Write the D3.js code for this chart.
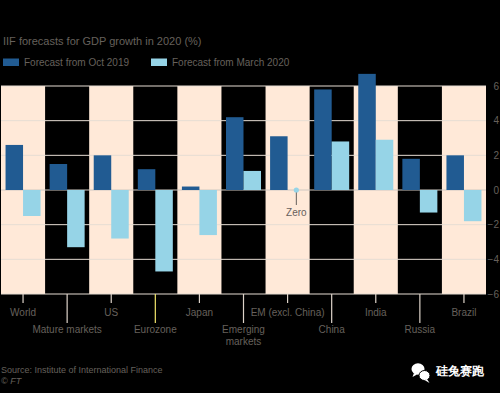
<!DOCTYPE html>
<html>
<head>
<meta charset="utf-8">
<script src="https://cdn.jsdelivr.net/npm/d3@7"></script>
<style>
  html, body { margin: 0; padding: 0; background: #000; }
  svg { display: block; }
  text { font-family: "Liberation Sans", Arial, sans-serif; }
</style>
</head>
<body>
<svg id="chart" width="500" height="393"></svg>
<script>
const categories = ["World", "Mature markets", "US", "Eurozone", "Japan", "Emerging markets", "EM (excl. China)", "China", "India", "Russia", "Brazil"];
const forecastOct2019 = [2.6, 1.5, 2.0, 1.2, 0.2, 4.2, 3.1, 5.8, 6.7, 1.8, 2.0];
const forecastMar2020 = [-1.5, -3.3, -2.8, -4.7, -2.6, 1.1, 0, 2.8, 2.9, -1.3, -1.8];
const yTicks = [-6, -4, -2, 0, 2, 4, 6];
const seriesNames = ["Forecast from Oct 2019", "Forecast from March 2020"];
const title = "IIF forecasts for GDP growth in 2020 (%)";
const source = "Source: Institute of International Finance";

const colDark = "#215b92", colLight = "#96d4e7", colPeach = "#ffe9d8";
const textCol = "#66605c", gridCol = "#e6ddd3";

const svg = d3.select("#chart");
const x = d3.scaleBand().domain(categories).range([1, 486]).paddingInner(0).paddingOuter(0);
const y = d3.scaleLinear().domain([-6, 6]).range([294, 86]);
const barW = 17.5;

// bands
svg.append("g").selectAll("rect").data(categories.filter((d, i) => i % 2 === 0)).join("rect")
  .attr("x", d => x(d)).attr("width", x.bandwidth())
  .attr("y", y(6)).attr("height", y(-6) - y(6))
  .attr("fill", colPeach);

// gridlines
svg.append("g").selectAll("line").data(yTicks).join("line")
  .attr("x1", 1).attr("x2", 486)
  .attr("y1", d => y(d)).attr("y2", d => y(d))
  .attr("stroke", d => d === 0 ? "#cfc8c1" : gridCol).attr("stroke-width", 1);

// bars
const cx = d => x(d) + x.bandwidth() / 2;
svg.append("g").selectAll("rect").data(categories).join("rect")
  .attr("x", d => cx(d) - barW).attr("width", barW)
  .attr("y", (d, i) => y(Math.max(0, forecastOct2019[i])))
  .attr("height", (d, i) => Math.abs(y(forecastOct2019[i]) - y(0)))
  .attr("fill", colDark);
svg.append("g").selectAll("rect").data(categories).join("rect")
  .attr("x", d => cx(d)).attr("width", barW)
  .attr("y", (d, i) => y(Math.max(0, forecastMar2020[i])))
  .attr("height", (d, i) => Math.abs(y(forecastMar2020[i]) - y(0)))
  .attr("fill", colLight);

// zero annotation
const zi = forecastMar2020.indexOf(0);
const zx = cx(categories[zi]) + barW / 2;
svg.append("line").attr("x1", zx).attr("x2", zx).attr("y1", y(0)).attr("y2", y(0) + 15)
  .attr("stroke", textCol).attr("stroke-width", 1);
svg.append("circle").attr("cx", zx).attr("cy", y(0)).attr("r", 2.6).attr("fill", colLight);
svg.append("text").attr("x", zx).attr("y", 216).attr("text-anchor", "middle")
  .attr("font-size", 10).attr("fill", textCol).text("Zero");

// bottom axis
const xAxis = svg.append("g").attr("transform", `translate(0,${y(-6)})`)
  .call(d3.axisBottom(x).tickSize(0).tickFormat(""));
xAxis.select(".domain").remove();
xAxis.selectAll(".tick").each(function(d, i) {
  const g = d3.select(this);
  const row = i % 2;
  g.append("line").attr("y1", 0).attr("y2", row ? 29 : 9)
    .attr("stroke", d === "Eurozone" ? "#f2e56b" : "#ddd3c9").attr("stroke-width", 1.2);
  const t = g.append("text").attr("text-anchor", "middle").attr("font-size", 10).attr("fill", textCol);
  const lines = d === "Emerging markets" ? ["Emerging", "markets"] : [d];
  lines.forEach((l, k) => t.append("tspan").attr("x", 0).attr("y", (row ? 38.5 : 21.5) + k * 12.5).text(l));
});

// right axis
const yAxis = svg.append("g").attr("transform", "translate(486,0)")
  .call(d3.axisRight(y).tickValues(yTicks).tickSize(0).tickFormat(d => d < 0 ? "\u2212" + Math.abs(d) : d));
yAxis.select(".domain").remove();
yAxis.selectAll("text").attr("x", 13).attr("text-anchor", "end").attr("font-size", 10)
  .attr("fill", textCol).attr("font-family", "Liberation Sans, Arial, sans-serif");

// title + legend
svg.append("text").attr("x", 3).attr("y", 45).attr("font-size", 11).attr("fill", textCol).text(title);
const legX = [3, 151];
[colDark, colLight].forEach((c, i) => {
  svg.append("rect").attr("x", legX[i]).attr("y", 58.5).attr("width", 16).attr("height", 7.5).attr("fill", c);
  svg.append("text").attr("x", legX[i] + 21).attr("y", 65.5).attr("font-size", 10).attr("fill", textCol).text(seriesNames[i]);
});

// source
svg.append("text").attr("x", 1).attr("y", 372.5).attr("font-size", 9).attr("fill", textCol).text(source);
svg.append("text").attr("x", 1).attr("y", 383.5).attr("font-size", 9).attr("font-style", "italic").attr("fill", textCol).text("\u00a9 FT");

// watermark
const wm = svg.append("g");
wm.append("ellipse").attr("cx", 418).attr("cy", 369).attr("rx", 6.5).attr("ry", 5.8).attr("fill", "#fff");
wm.append("path").attr("d", "M414,373 L412.5,377 L417,374.5 Z").attr("fill", "#fff");
wm.append("ellipse").attr("cx", 424.5).attr("cy", 375.5).attr("rx", 5.5).attr("ry", 5).attr("fill", "#fff").attr("stroke", "#000").attr("stroke-width", 1);
wm.append("path").attr("d", "M427,379 L429.5,383 L424.5,380 Z").attr("fill", "#fff");
wm.append("text").attr("x", 436).attr("y", 374.5).attr("font-size", 12).attr("font-weight", 700)
  .attr("font-family", "Noto Sans CJK SC, sans-serif").attr("fill", "#fff").text("硅兔赛跑");
</script>
</body>
</html>
